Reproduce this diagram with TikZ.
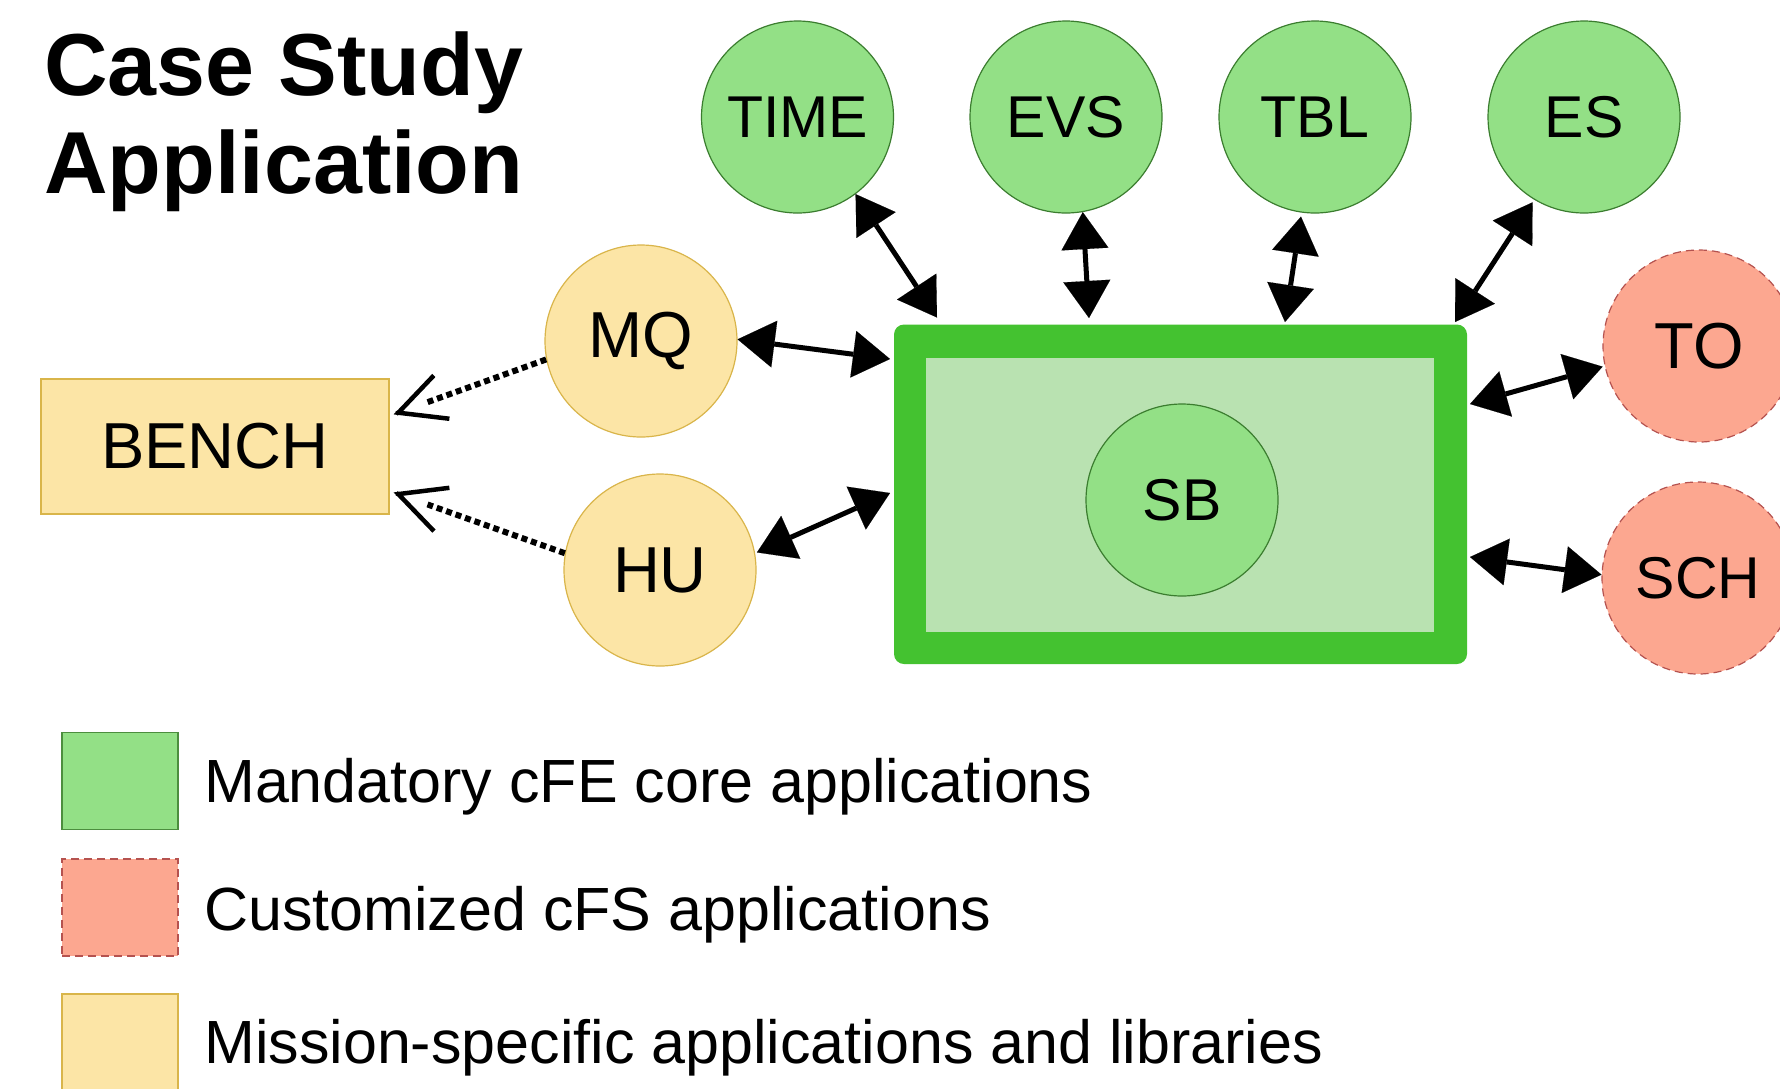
\documentclass[tikz,border=0pt]{standalone}
\usepackage{fontspec}
\setmainfont{Liberation Sans}
\usetikzlibrary{arrows.meta,calc}
\definecolor{cgreen}{HTML}{93E086}
\definecolor{cgreenline}{HTML}{3B7D2F}
\definecolor{legreenline}{HTML}{4C8E3E}
\definecolor{boxborder}{HTML}{44C230}
\definecolor{boxinner}{HTML}{B9E2B1}
\definecolor{cyellow}{HTML}{FCE5A6}
\definecolor{cyellowline}{HTML}{D9B54A}
\definecolor{csalmon}{HTML}{FCA790}
\definecolor{csalmonline}{HTML}{B5524F}
\begin{document}
\begin{tikzpicture}[x=1pt,y=-1pt,
  app/.style={circle, minimum size=192pt, inner sep=0pt, line width=1.2pt},
  core/.style={app, fill=cgreen, draw=cgreenline},
  cust/.style={app, fill=csalmon, draw=csalmonline, dash pattern=on 8pt off 5pt},
  miss/.style={app, fill=cyellow, draw=cyellowline},
  biarrow/.style={line width=5pt,
    {Triangle[length=37pt,width=47pt,line width=0.1pt]}-{Triangle[length=37pt,width=47pt,line width=0.1pt]}},
  depend/.style={line width=6pt, dash pattern=on 6pt off 4pt, shorten >=36pt},
  barb/.style={line width=4.5pt, -{Straight Barb[length=46pt,width=46pt]}},
  lbl/.style={font=\fontsize{59pt}{70pt}\selectfont},
  lblbig/.style={font=\fontsize{65pt}{78pt}\selectfont},
  legbox/.style={minimum width=116pt, minimum height=97pt, inner sep=0pt, line width=1.5pt},
  legtext/.style={anchor=base west, inner sep=0pt, font=\fontsize{61pt}{72pt}\selectfont},
  titletext/.style={anchor=base west, inner sep=0pt, font=\fontsize{88pt}{100pt}\selectfont\bfseries}
]
\useasboundingbox (0,0) rectangle (1780,1088);
\fill[white] (0,0) rectangle (1780,1088);

% title
\node[titletext] (t1) at (44,95) {Case Study};
\node[titletext] (t2) at (44,193) {Application};

% central box
\node[fill=boxborder, rounded corners=10pt, minimum width=573pt, minimum height=339.5pt,
      inner sep=0pt, outer sep=0pt] (box) at (1180.5,494.25) {};
\node[fill=boxinner, minimum width=508pt, minimum height=274pt, inner sep=0pt] (boxin) at (1180,495) {};
\node[core, lbl] (SB) at (1182,500) {SB};

% top core apps
\node[core, lbl] (TIME) at (797.5,117) {TIME};
\node[core, lbl] (EVS) at (1066,117) {EVS};
\node[core, lbl] (TBL) at (1315,117) {TBL};
\node[core, lbl] (ES) at (1584,117) {ES};

% mission specific
\node[miss, lblbig] (MQ) at (641,341) {MQ};
\node[miss, lblbig] (HU) at (660,570) {HU};
\node[fill=cyellow, draw=cyellowline, line width=1.2pt, minimum width=348pt, minimum height=135pt,
      inner sep=0pt, lblbig] (BENCH) at (215,446.5) {BENCH};

% customized
\node[cust, lblbig] (TO) at (1699,346) {TO};
\node[cust, lbl] (SCH) at (1698,578) {SCH};

% connectors
\draw[biarrow] (TIME.-53) -- ($(box.north west)+(43,-7)$);
\draw[biarrow] (EVS.-80) -- ($(box.north west)+(195,-6.5)$);
\draw[biarrow, shorten <=4pt] (TBL.-98) -- ($(box.north west)+(391,-2.5)$);
\draw[biarrow, shorten <=3pt] (ES.-121) -- ($(box.north west)+(561,-2.5)$);
\draw[biarrow] (MQ.1) -- ($(box.north west)+(-4,34.5)$);
\draw[biarrow, shorten <=2pt] (HU.10) -- ($(box.north west)+(-4,168.5)$);
\draw[biarrow, shorten <=2pt] (TO.192) -- ($(box.north east)+(3,79.5)$);
\draw[biarrow] (SCH.178) -- ($(box.north east)+(3,232.5)$);

\coordinate (bq) at ($(BENCH.north east)+(4,36)$);
\coordinate (bh) at ($(BENCH.north east)+(4,114)$);
\draw[depend] (MQ.191) -- (bq);
\draw[barb] ($(bq)!3pt!(MQ.191)$) -- (bq);
\draw[depend] (HU.170) -- (bh);
\draw[barb] ($(bh)!3pt!(HU.170)$) -- (bh);

% legend
\node[legbox, fill=cgreen, draw=legreenline] (lg1) at (120,781) {};
\node[legbox, fill=csalmon, draw=csalmonline, dash pattern=on 8pt off 5pt] (lg2) at (120,907.5) {};
\node[legbox, fill=cyellow, draw=cyellowline, minimum height=104pt] (lg3) at (120,1046) {};
\node[legtext] (lt1) at (204,802) {Mandatory cFE core applications};
\node[legtext] (lt2) at (204,930) {Customized cFS applications};
\node[legtext] (lt3) at (204,1063) {Mission-specific applications and libraries};
\end{tikzpicture}
\end{document}
